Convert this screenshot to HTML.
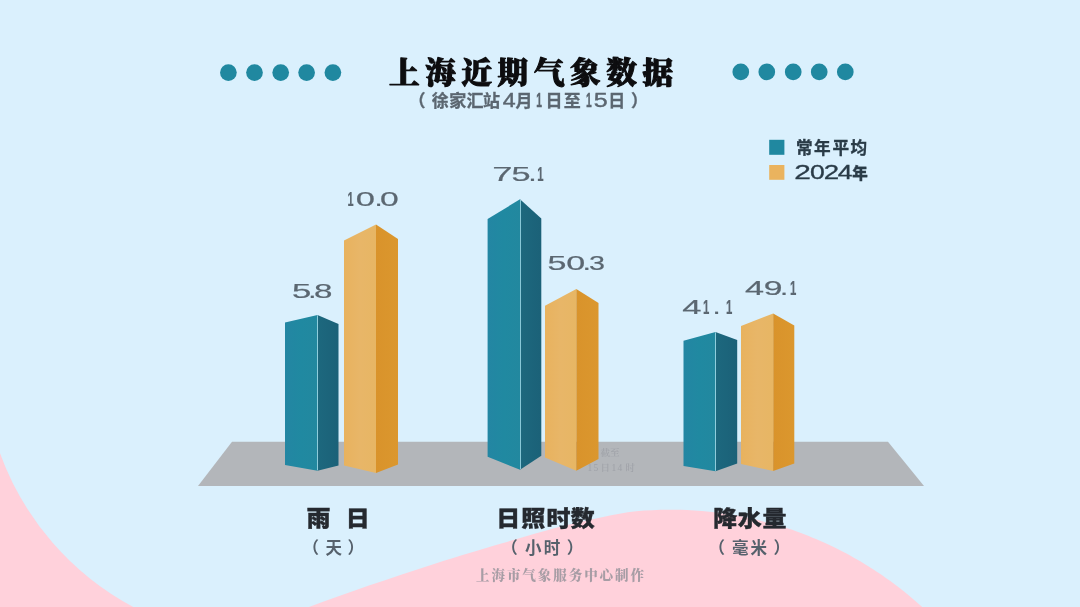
<!DOCTYPE html>
<html lang="zh-CN">
<head>
<meta charset="utf-8">
<title>上海近期气象数据</title>
<style>
html,body{margin:0;padding:0;background:#daf0fd;}
body{width:1080px;height:607px;overflow:hidden;position:relative;}
svg{position:absolute;left:0;top:0;display:block;}
.title{font-family:"Liberation Serif","Noto Serif CJK SC",serif;font-weight:900;font-size:30.6px;fill:#0d0d0f;stroke:#0d0d0f;stroke-width:1.1px;stroke-linejoin:round;}
.sub{font-family:"Liberation Sans","Noto Sans CJK SC",sans-serif;font-weight:700;font-size:17px;fill:#5b6670;stroke:#5b6670;stroke-width:0.3px;}
.subn{font-family:"Liberation Sans","Noto Sans CJK SC",sans-serif;font-weight:400;font-size:19.5px;fill:#5b6670;stroke:#5b6670;stroke-width:0.4px;}
.num{font-family:"Liberation Sans","Noto Sans CJK SC",sans-serif;font-weight:400;font-size:20.6px;fill:#5b6771;stroke:#5b6771;stroke-width:0.2px;}
.cat{font-family:"Liberation Sans","Noto Sans CJK SC",sans-serif;font-weight:900;font-size:24px;fill:#25292f;stroke:#25292f;stroke-width:0.4px;}
.unit{font-family:"Liberation Sans","Noto Sans CJK SC",sans-serif;font-weight:700;font-size:16.5px;fill:#56616c;}
.leg{font-family:"Liberation Sans","Noto Sans CJK SC",sans-serif;font-weight:700;font-size:16.6px;fill:#2a3b47;stroke:#2a3b47;stroke-width:0.35px;}
.leg2{font-family:"Liberation Sans","Noto Sans CJK SC",sans-serif;font-weight:900;font-size:15.5px;fill:#2a3b47;}
.legn{font-family:"Liberation Sans","Noto Sans CJK SC",sans-serif;font-weight:400;font-size:19.3px;fill:#2a3b47;stroke:#2a3b47;stroke-width:0.3px;}
.foot{font-family:"Liberation Serif","Noto Serif CJK SC",serif;font-weight:900;font-size:13.5px;fill:#a79da5;}
.note{font-family:"Liberation Serif","Noto Serif CJK SC",serif;font-weight:500;font-size:9.5px;fill:#9fa2a8;}
</style>
</head>
<body>
<svg width="1080" height="607" viewBox="0 0 1080 607">
  <defs>
    <linearGradient id="tl" x1="0" x2="1" y1="0" y2="0"><stop offset="0" stop-color="#2386a3"/><stop offset="0.5" stop-color="#2089a1"/><stop offset="1" stop-color="#22889f"/></linearGradient>
    <linearGradient id="tr" x1="0" x2="1" y1="0" y2="0"><stop offset="0" stop-color="#1d687e"/><stop offset="1" stop-color="#1b6178"/></linearGradient>
    <linearGradient id="ol" x1="0" x2="1" y1="0" y2="0"><stop offset="0" stop-color="#e8b25e"/><stop offset="0.5" stop-color="#e8b668"/><stop offset="1" stop-color="#e7b664"/></linearGradient>
    <linearGradient id="or" x1="0" x2="1" y1="0" y2="0"><stop offset="0" stop-color="#d9932b"/><stop offset="1" stop-color="#db972e"/></linearGradient>
  </defs>
  <rect width="1080" height="607" fill="#daf0fd"/>
  <path d="M0 453.3 A284.3 284.3 0 0 0 133.3 607 L0 607 Z" fill="#ffd1db"/>
  <path d="M308.9 607.0 C328.9 599.9 347.8 592.9 368.9 585.6 C390.0 578.3 413.4 570.5 435.6 563.4 C457.8 556.3 481.5 549.3 502.2 543.2 C522.9 537.1 543.4 531.1 560.0 526.8 C576.6 522.5 589.3 519.8 602.0 517.2 C614.7 514.6 624.8 512.6 636.0 511.3 C647.2 510.1 658.0 509.8 669.0 509.7 C680.0 509.6 689.3 509.8 702.0 511.0 C714.7 512.2 730.7 514.2 745.0 517.1 C759.3 520.1 776.2 524.9 788.0 528.5 C799.8 532.2 806.8 535.2 816.0 539.1 C825.2 542.9 833.8 546.9 843.0 551.8 C852.2 556.6 863.2 563.0 871.0 567.9 C878.8 572.7 883.8 576.3 890.0 580.8 C896.2 585.3 902.6 590.3 908.0 594.7 C913.4 599.1 917.5 602.9 922.2 607.0 Z" fill="#ffd1db"/>
  <g fill="#2088a0">
    <circle cx="228.4" cy="72.6" r="8.35"/><circle cx="254.5" cy="72.6" r="8.35"/><circle cx="280.7" cy="72.6" r="8.35"/><circle cx="306.6" cy="72.6" r="8.35"/><circle cx="332.9" cy="72.6" r="8.35"/>
    <circle cx="740.8" cy="71.9" r="8.35"/><circle cx="766.8" cy="71.9" r="8.35"/><circle cx="793.2" cy="71.9" r="8.35"/><circle cx="819.2" cy="71.9" r="8.35"/><circle cx="845.3" cy="71.9" r="8.35"/>
  </g>
  <text class="title" transform="translate(531 83.2) scale(1 0.96)" x="0" y="0" text-anchor="middle" textLength="284" lengthAdjust="spacing">上海近期气象数据</text>
  <g>
  <text class="sub" y="107.4"><tspan x="408.4 431.8 449.2 466.5 482.9">（徐家汇站</tspan><tspan class="subn" dy="-0.4"><tspan x="502.77" textLength="12.91" lengthAdjust="spacingAndGlyphs">4</tspan></tspan><tspan dy="0.4"><tspan x="515.6">月</tspan></tspan><tspan class="subn" dy="-0.4"><tspan x="536.35" textLength="5.74" lengthAdjust="spacingAndGlyphs" style="font-weight:700">1</tspan></tspan><tspan dy="0.4"><tspan x="545.5 563.7">日至</tspan></tspan><tspan class="subn" dy="-0.4"><tspan x="585.95" textLength="5.74" lengthAdjust="spacingAndGlyphs" style="font-weight:700">1</tspan><tspan x="593.80" textLength="13.96" lengthAdjust="spacingAndGlyphs">5</tspan></tspan><tspan dy="0.4"><tspan x="608.2 630.9">日）</tspan></tspan></text>
  </g>
  <rect x="769.2" y="139.8" width="15.2" height="15" fill="#2088a0"/>
  <rect x="769.2" y="165" width="15.2" height="14.8" fill="#eab35e"/>
  <g>
  <text class="leg" x="796.0 814.0 832.6 850.4" y="153.6">常年平均</text>
  <text class="legn" y="178.9"><tspan x="794.30" textLength="16.60" lengthAdjust="spacingAndGlyphs">2</tspan><tspan x="809.96" textLength="14.78" lengthAdjust="spacingAndGlyphs">0</tspan><tspan x="823.81" textLength="15.38" lengthAdjust="spacingAndGlyphs">2</tspan><tspan x="837.89" textLength="14.79" lengthAdjust="spacingAndGlyphs">4</tspan><tspan class="leg2" dy="-0.3" x="852.2">年</tspan></text>
  </g>
  <polygon points="232,441.7 888,441.7 924,486 198,486" fill="#b3b6ba"/>
  <text class="note" x="600.5" y="455.6">截至</text>
  <text class="note" x="587.5 593.5 600.5 611.5 617.5 625.5" y="471.4">15日14时</text>
  <g>
    <polygon points="285,322.5 317.5,315 317.5,470.7 285,465" fill="url(#tl)"/>
    <polygon points="317.5,315 338.5,324 338.5,465.5 317.5,470.7" fill="url(#tr)"/>
    <polygon points="344,240.5 376,224.6 376,473 344,465.5" fill="url(#ol)"/>
    <polygon points="376,224.6 398,239 398,464.5 376,473" fill="url(#or)"/>
    <polygon points="487.6,219 520,199.3 520,469.7 487.6,456.7" fill="url(#tl)"/>
    <polygon points="520,199.3 541.3,218.6 541.3,455.8 520,469.7" fill="url(#tr)"/>
    <polygon points="545,305.7 576.3,289 576.3,470.8 545,457.5" fill="url(#ol)"/>
    <polygon points="576.3,289 598.5,303 598.5,459 576.3,470.8" fill="url(#or)"/>
    <polygon points="683.5,340.7 715.5,332 715.5,471.3 683.5,466" fill="url(#tl)"/>
    <polygon points="715.5,332 737.2,340 737.2,463.5 715.5,471.3" fill="url(#tr)"/>
    <polygon points="741,326 773.2,313.5 773.2,471 741,464" fill="url(#ol)"/>
    <polygon points="773.2,313.5 794.3,325.6 794.3,463.5 773.2,471" fill="url(#or)"/>
    <g stroke="#9bd8e6" stroke-width="1" stroke-opacity="0.85">
      <line x1="317.5" y1="315.5" x2="317.5" y2="470.2"/><line x1="520.5" y1="200" x2="520.5" y2="469.2"/><line x1="715.5" y1="332.5" x2="715.5" y2="470.8"/>
    </g>
  </g>
  <text class="num" y="297.6"><tspan x="292.01" textLength="19.35" lengthAdjust="spacingAndGlyphs">5</tspan><tspan x="308.31" textLength="8.17" lengthAdjust="spacingAndGlyphs">.</tspan><tspan x="313.95" textLength="18.49" lengthAdjust="spacingAndGlyphs">8</tspan></text>
  <text class="num" y="205.6"><tspan x="347.51" textLength="6.10" lengthAdjust="spacingAndGlyphs" style="font-weight:700">1</tspan><tspan x="355.85" textLength="19.20" lengthAdjust="spacingAndGlyphs">0</tspan><tspan x="374.61" textLength="8.17" lengthAdjust="spacingAndGlyphs">.</tspan><tspan x="379.98" textLength="18.73" lengthAdjust="spacingAndGlyphs">0</tspan></text>
  <text class="num" y="181.4"><tspan x="492.34" textLength="20.19" lengthAdjust="spacingAndGlyphs">7</tspan><tspan x="511.53" textLength="19.12" lengthAdjust="spacingAndGlyphs">5</tspan><tspan x="528.22" textLength="8.46" lengthAdjust="spacingAndGlyphs">.</tspan><tspan x="537.18" textLength="6.34" lengthAdjust="spacingAndGlyphs" style="font-weight:700">1</tspan></text>
  <text class="num" y="270.0"><tspan x="547.63" textLength="19.00" lengthAdjust="spacingAndGlyphs">5</tspan><tspan x="566.17" textLength="18.97" lengthAdjust="spacingAndGlyphs">0</tspan><tspan x="582.62" textLength="8.46" lengthAdjust="spacingAndGlyphs">.</tspan><tspan x="588.91" textLength="15.96" lengthAdjust="spacingAndGlyphs">3</tspan></text>
  <text class="num" y="314.0"><tspan x="682.21" textLength="19.20" lengthAdjust="spacingAndGlyphs">4</tspan><tspan x="702.88" textLength="6.34" lengthAdjust="spacingAndGlyphs" style="font-weight:700">1</tspan><tspan x="712.51" textLength="8.17" lengthAdjust="spacingAndGlyphs">.</tspan><tspan x="725.88" textLength="6.34" lengthAdjust="spacingAndGlyphs" style="font-weight:700">1</tspan></text>
  <text class="num" y="294.5"><tspan x="744.91" textLength="19.09" lengthAdjust="spacingAndGlyphs">4</tspan><tspan x="763.82" textLength="18.78" lengthAdjust="spacingAndGlyphs">9</tspan><tspan x="780.01" textLength="8.17" lengthAdjust="spacingAndGlyphs">.</tspan><tspan x="790.08" textLength="6.34" lengthAdjust="spacingAndGlyphs" style="font-weight:700">1</tspan></text>
  <g transform="translate(0 526.3) scale(1 0.92)">
    <text class="cat" x="306.4 332 345.8" y="0">雨 日</text>
    <text class="cat" x="496.3 521.3 546.6 570.8" y="0">日照时数</text>
    <text class="cat" x="713.3 737.7 762.5" y="0">降水量</text>
  </g>
  <text class="unit" x="302.5 325.4 347.5" y="553.8">（天）</text>
  <text class="unit" x="501.2 524.9 543.7 566.8" y="553.8">（小时）</text>
  <text class="unit" x="708.4 732.0 750.4 773.4" y="553.8">（毫米）</text>
  <text class="foot" x="560" y="580" text-anchor="middle" textLength="168" lengthAdjust="spacing">上海市气象服务中心制作</text>
</svg>
</body>
</html>
